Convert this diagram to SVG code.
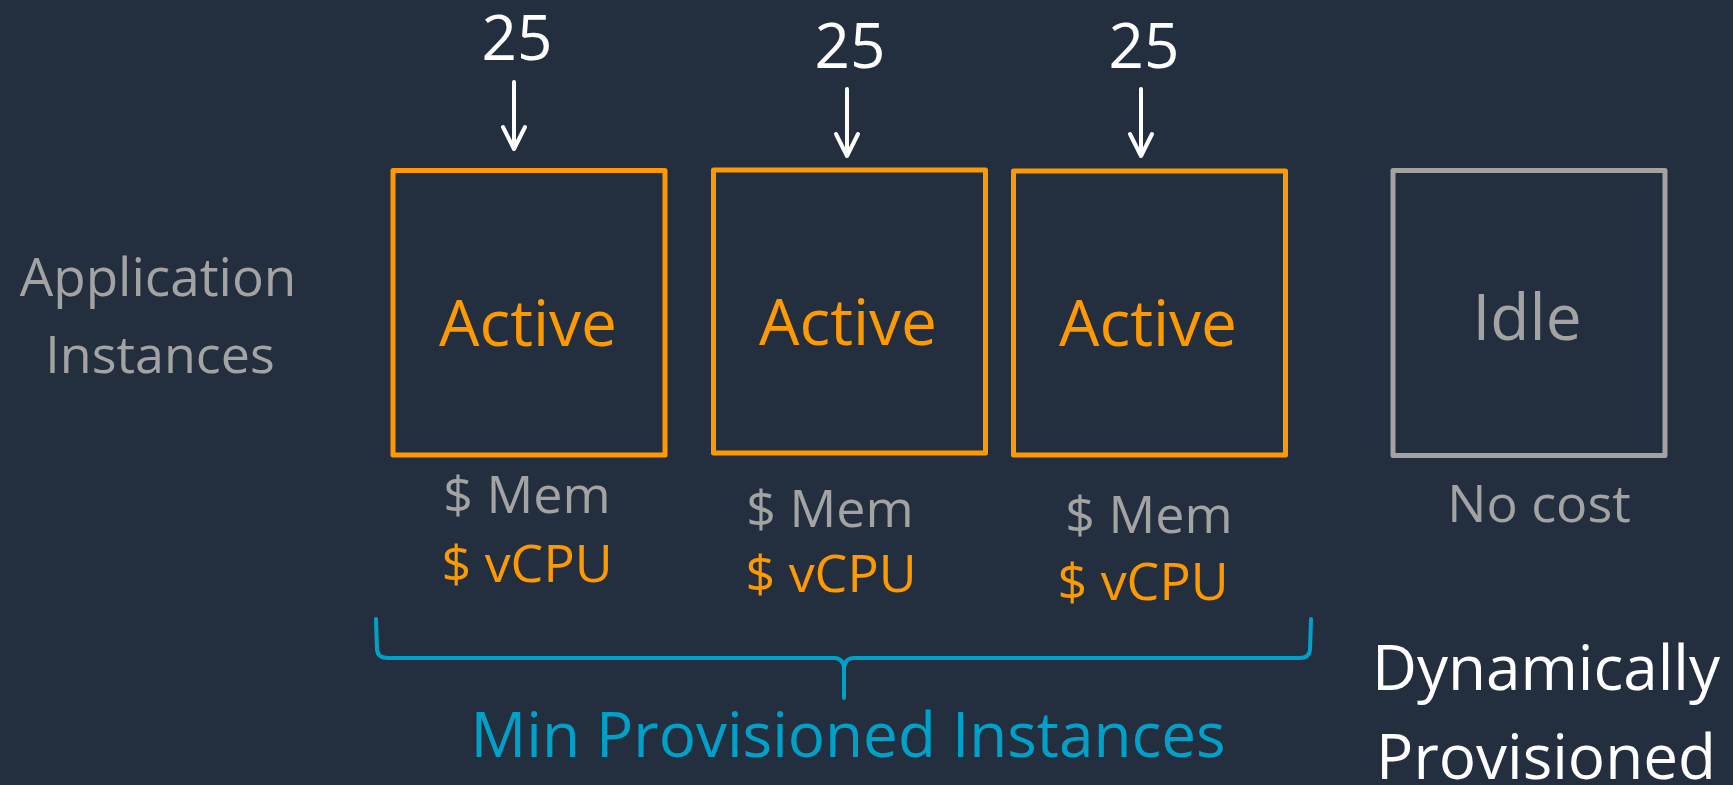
<svg xmlns="http://www.w3.org/2000/svg" width="1733" height="785" viewBox="0 0 1733 785">
<style>
text{font-family:"Open Sans","Noto Sans","Liberation Sans",sans-serif;text-anchor:middle}
.box{fill:none;stroke-width:5;stroke-linejoin:round}
.act{stroke:#FF9900}
.idle{stroke:#A3A3A3}
.t-or{fill:#FF9900}
.t-gr{fill:#A3A3A3}
.t-wh{fill:#FFFFFF}
.t-bl{fill:#00A1C9}
.arr{fill:none;stroke:#FFFFFF;stroke-width:4;stroke-linecap:round;stroke-linejoin:round}
.brace{fill:none;stroke:#00A1C9;stroke-width:4;stroke-linecap:round;stroke-linejoin:round}
</style>
<rect width="1733" height="785" fill="#232F3E"/>
<g id="label-app">
<text class="t-gr" x="158" y="296" font-size="53">Application</text>
<text class="t-gr" x="160" y="373" font-size="52">Instances</text>
</g>
<g id="connectors">
<text class="t-wh" x="517" y="60" font-size="62">25</text>
<path class="arr" d="M514 82 V148 M503 127 L514 149 L525 127"/>
<text class="t-wh" x="850" y="68" font-size="62">25</text>
<path class="arr" d="M847 89 V155 M836 134 L847 156 L858 134"/>
<text class="t-wh" x="1144" y="68" font-size="62">25</text>
<path class="arr" d="M1141 89 V155 M1130 134 L1141 156 L1152 134"/>
<path class="brace" d="M376 619 L377 650 Q378 658 388 658 L834 658 Q843 658 844 668 L844 698 M844 668 Q845 658 854 658 L1300 658 Q1309 658 1310 650 L1311 619"/>
</g>
<g id="node-active-1">
<rect class="box act" x="393" y="170.5" width="272" height="284.5"/>
<text class="t-or" x="528" y="346" font-size="64">Active</text>
<text class="t-gr" x="527" y="513" font-size="52">$ Mem</text>
<text class="t-or" x="527" y="582" font-size="52">$ vCPU</text>
</g>
<g id="node-active-2">
<rect class="box act" x="713.5" y="170" width="272" height="283"/>
<text class="t-or" x="848" y="345" font-size="64">Active</text>
<text class="t-gr" x="830" y="527" font-size="52">$ Mem</text>
<text class="t-or" x="831" y="592" font-size="52">$ vCPU</text>
</g>
<g id="node-active-3">
<rect class="box act" x="1013.5" y="171" width="272" height="284"/>
<text class="t-or" x="1148" y="346" font-size="64">Active</text>
<text class="t-gr" x="1149" y="533" font-size="52">$ Mem</text>
<text class="t-or" x="1143" y="600" font-size="52">$ vCPU</text>
</g>
<g id="node-idle">
<rect class="box idle" x="1393" y="170.5" width="272" height="285"/>
<text class="t-gr" x="1527" y="340" font-size="64">Idle</text>
<text class="t-gr" x="1539" y="522" font-size="52">No cost</text>
</g>
<g id="label-min">
<text class="t-bl" x="848" y="757" font-size="62">Min Provisioned Instances</text>
</g>
<g id="label-dyn">
<text class="t-wh" x="1546" y="690" font-size="62">Dynamically</text>
<text class="t-wh" x="1546" y="779" font-size="62">Provisioned</text>
</g>
</svg>
